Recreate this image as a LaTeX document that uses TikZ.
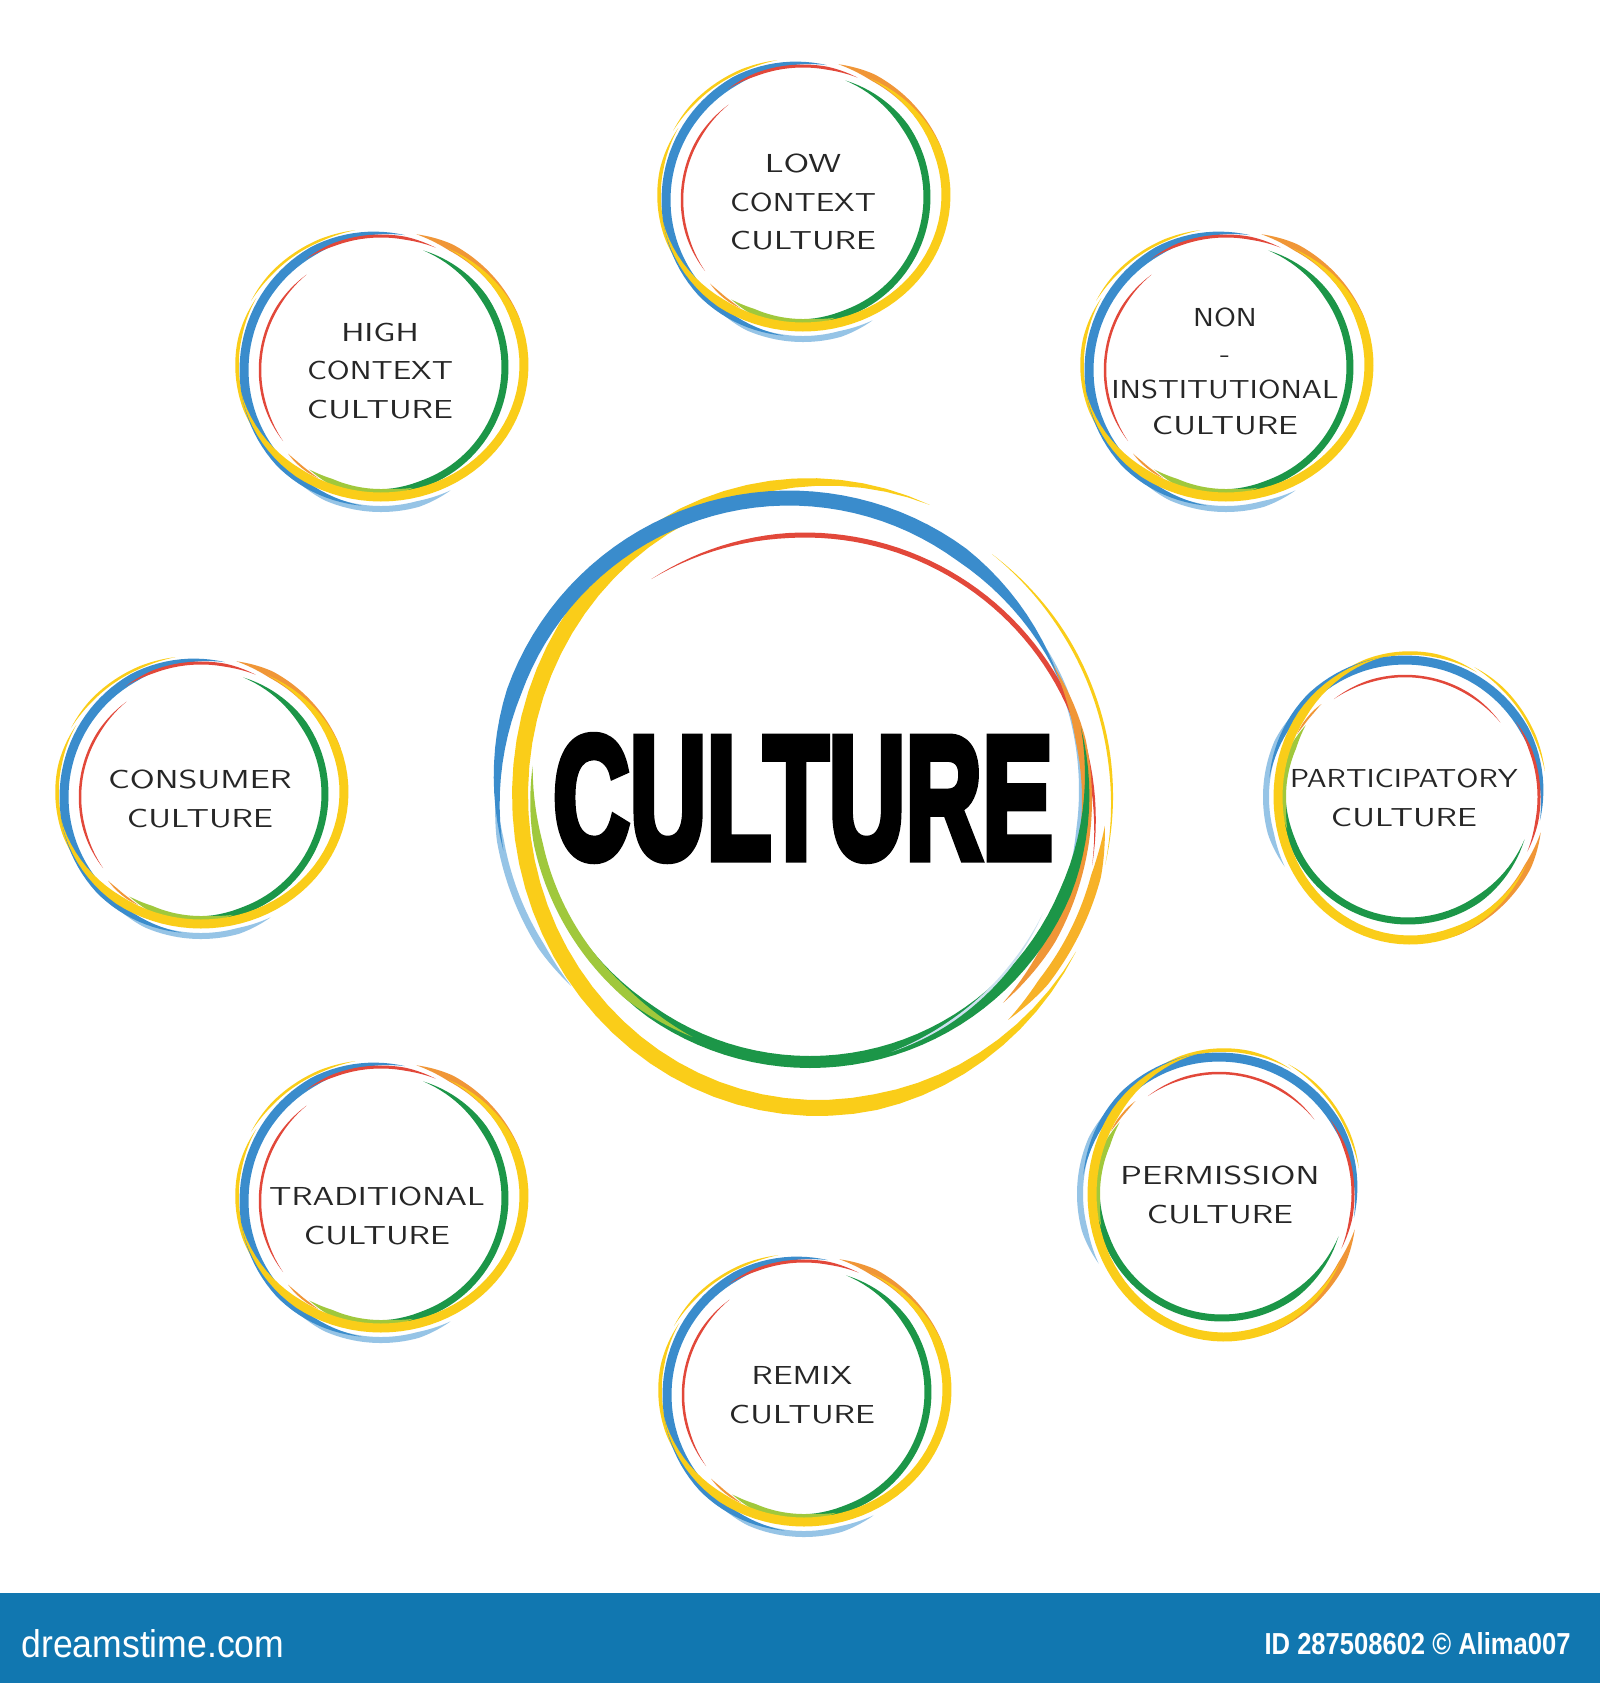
\documentclass[tikz,border=0pt]{standalone}
\usepackage{fontspec}
\usepackage{graphicx}
\newfontfamily\libsans{Liberation Sans}
\newfontfamily\heavyfont{Liberation Sans}[BoldFeatures={FakeBold=5}]
\definecolor{cblue}{RGB}{58,140,204}
\definecolor{clblue}{RGB}{150,196,230}
\definecolor{cred}{RGB}{226,72,58}
\definecolor{corange}{RGB}{240,150,55}
\definecolor{cgreen}{RGB}{28,150,72}
\definecolor{clime}{RGB}{160,200,60}
\definecolor{cyel}{RGB}{250,205,25}
\definecolor{cyelor}{RGB}{247,178,40}
\definecolor{cpale}{RGB}{205,225,240}
\definecolor{banner}{RGB}{17,119,176}
% tapered arc: color, cx, cy, rx, ry, a1, a2, width, sharpness
\newcommand\tarc[9]{%
 \fill[#1] plot[domain=#6:#7,samples=60,variable=\ang]
  ({#2+(#4+0.5*#8*min(1,#9*sin(180/((#7)-(#6))*(\ang-(#6)))))*cos(\ang)},
   {#3+(#5+0.5*#8*min(1,#9*sin(180/((#7)-(#6))*(\ang-(#6)))))*sin(\ang)})
  -- plot[domain=#7:#6,samples=60,variable=\ang]
  ({#2+(#4-0.5*#8*min(1,#9*sin(180/((#7)-(#6))*(\ang-(#6)))))*cos(\ang)},
   {#3+(#5-0.5*#8*min(1,#9*sin(180/((#7)-(#6))*(\ang-(#6)))))*sin(\ang)}) -- cycle;}
\newcommand\ringsA[3]{%
 \begin{scope}[shift={(#1,-#2)},rotate=#3]
  \tarc{cyel}{0}{5}{147}{137}{100}{152}{2.5}{1.3}
  \tarc{cyel}{0}{5}{144}{134}{150}{218}{3.5}{1.3}
  \tarc{clblue}{0}{0}{139}{139}{232}{300}{6}{1.6}
  \tarc{cblue}{0}{0}{137}{137}{80}{262}{9}{1.6}
  \tarc{cred}{0}{0}{121}{121}{128}{216}{2.5}{1.5}
  \tarc{corange}{0}{0}{125}{125}{222}{240}{2}{1.2}
  \tarc{cred}{0}{0}{134}{134}{66}{124}{3}{1.5}
  \tarc{corange}{0}{-3}{146}{143}{8}{76}{7}{1.6}
  \tarc{cgreen}{0}{3}{124}{124}{-105}{70}{7}{1.7}
  \tarc{clime}{0}{3}{125}{125}{-125}{-75}{6}{1.5}
  \tarc{cyel}{0}{5}{143}{132}{-168}{62}{9}{1.8}
 \end{scope}}
\newcommand\wl[2][1.17]{\scalebox{#1}[1]{#2}}
\tikzset{
 lbl/.style={font=\sffamily\fontsize{13}{19.3}\selectfont, align=center, inner sep=0pt, text=black!85},
}
\begin{document}
\begin{tikzpicture}[x=0.5pt,y=0.5pt]
\fill[white] (0,0) rectangle (1600,-1683);
\useasboundingbox (0,0) rectangle (1600,-1683);
% small circles
\ringsA{803}{200}{0}
\ringsA{381}{370}{0}
\ringsA{1226}{370}{0}
\ringsA{201}{797}{0}
\ringsA{1405}{797}{-90}
\ringsA{381}{1201}{0}
\ringsA{1219}{1194}{-90}
\ringsA{804}{1395}{0}
% central circle
\tarc{cyel}{800}{-800}{312}{312}{-12}{52}{3}{1.2}
\tarc{cyel}{818}{-795}{298}{313}{68}{330}{16}{1.8}
\tarc{cyelor}{810}{-800}{296}{296}{-48}{-5}{10}{1.5}
\tarc{clblue}{789}{-790}{293}{293}{-20}{32}{6}{1.5}
\tarc{clblue}{789}{-790}{293}{293}{180}{222}{7}{1.5}
\tarc{cblue}{789}{-790}{292}{292}{22}{192}{15}{1.8}
\tarc{cred}{805}{-825}{290}{290}{-8}{122}{5}{1.6}
\tarc{corange}{800}{-800}{287}{287}{-45}{28}{10}{1.6}
\tarc{cgreen}{810}{-785}{277}{277}{200}{372}{12}{1.7}
\tarc{clime}{810}{-785}{278}{278}{176}{245}{9}{1.5}
\tarc{cpale}{800}{-800}{268}{268}{-70}{-25}{2.5}{1.2}
\node[inner sep=0pt] (culture) at (803,-798) {\resizebox{250pt}{61pt}{\heavyfont\bfseries CULTURE}};
% labels
\node[lbl] (low) at (803,-202) {\wl[1.37]{LOW}\\\wl[1.22]{CONTEXT}\\\wl[1.31]{CULTURE}};
\node[lbl] (high) at (380,-371) {\wl[1.3]{HIGH}\\\wl[1.22]{CONTEXT}\\\wl[1.31]{CULTURE}};
\node[lbl, font=\sffamily\fontsize{13}{17.9}\selectfont] (noninst) at (1225,-371.5) {\wl{NON}\\\wl{-}\\\wl[1.2]{INSTITUTIONAL}\\\wl[1.31]{CULTURE}};
\node[lbl] (consumer) at (200,-799) {\wl[1.33]{CONSUMER}\\\wl[1.31]{CULTURE}};
\node[lbl] (particip) at (1404,-798) {\wl[1.18]{PARTICIPATORY}\\\wl[1.31]{CULTURE}};
\node[lbl] (tradit) at (377,-1216) {\wl[1.29]{TRADITIONAL}\\\wl[1.31]{CULTURE}};
\node[lbl] (permis) at (1220,-1195) {\wl[1.34]{PERMISSION}\\\wl[1.31]{CULTURE}};
\node[lbl] (remix) at (802,-1395) {\wl[1.3]{REMIX}\\\wl[1.31]{CULTURE}};
% banner
\fill[banner] (0,-1593) rectangle (1600,-1683);
\node[anchor=west, inner sep=0pt, text=white] (dt) at (21,-1644) {\resizebox{131.5pt}{14pt}{\libsans dreamstime.com}};
\node[anchor=east, inner sep=0pt, text=white] (idtxt) at (1571,-1644) {\resizebox{153pt}{11pt}{\libsans\bfseries ID 287508602 \textcopyright{} Alima007}};
\end{tikzpicture}
\end{document}
